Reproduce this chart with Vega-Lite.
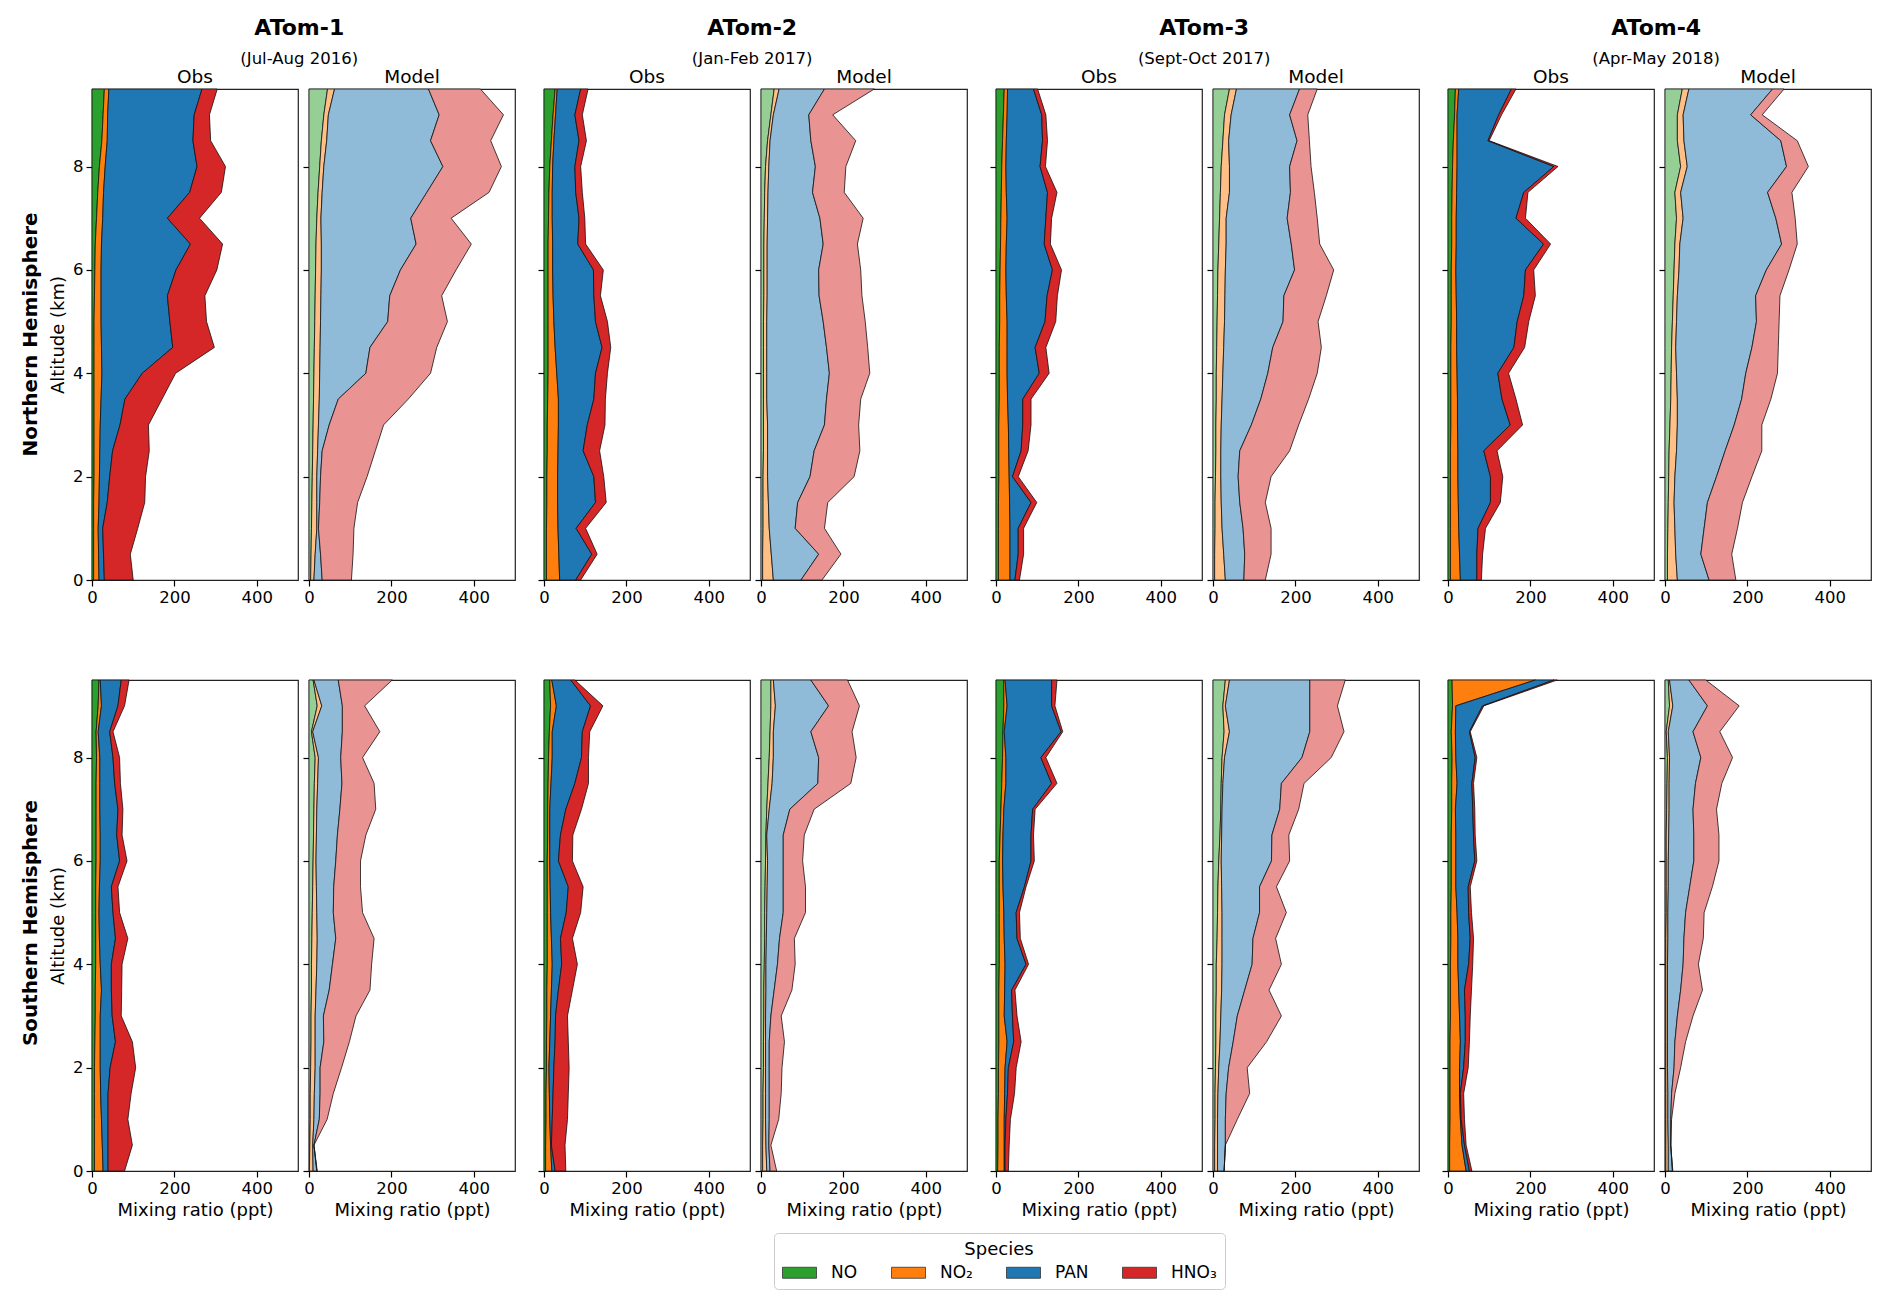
{
"$schema":"https://vega.github.io/schema/vega-lite/v6.json",
"padding":{"left":20,"top":16,"right":5,"bottom":5},
"background":"white",
"data":{"values":[
{"h":"NH","c":1,"s":"Obs","a":9.5,"NO":30,"NO2":11,"PAN":226,"HNO3":37},
{"h":"NH","c":1,"s":"Obs","a":9,"NO":27,"NO2":11,"PAN":210,"HNO3":37},
{"h":"NH","c":1,"s":"Obs","a":8.5,"NO":24,"NO2":13,"PAN":208,"HNO3":43},
{"h":"NH","c":1,"s":"Obs","a":8,"NO":18,"NO2":14,"PAN":223,"HNO3":69},
{"h":"NH","c":1,"s":"Obs","a":7.5,"NO":14,"NO2":14,"PAN":209,"HNO3":77},
{"h":"NH","c":1,"s":"Obs","a":7,"NO":11,"NO2":15,"PAN":157,"HNO3":78},
{"h":"NH","c":1,"s":"Obs","a":6.5,"NO":8,"NO2":15,"PAN":216,"HNO3":78},
{"h":"NH","c":1,"s":"Obs","a":6,"NO":7,"NO2":15,"PAN":182,"HNO3":99},
{"h":"NH","c":1,"s":"Obs","a":5.5,"NO":6,"NO2":16,"PAN":161,"HNO3":91},
{"h":"NH","c":1,"s":"Obs","a":5,"NO":5,"NO2":17,"PAN":167,"HNO3":89},
{"h":"NH","c":1,"s":"Obs","a":4.5,"NO":5,"NO2":18,"PAN":173,"HNO3":101},
{"h":"NH","c":1,"s":"Obs","a":4,"NO":5,"NO2":19,"PAN":98,"HNO3":81},
{"h":"NH","c":1,"s":"Obs","a":3.5,"NO":5,"NO2":17,"PAN":58,"HNO3":90},
{"h":"NH","c":1,"s":"Obs","a":3,"NO":5,"NO2":15,"PAN":48,"HNO3":69},
{"h":"NH","c":1,"s":"Obs","a":2.5,"NO":5,"NO2":14,"PAN":31,"HNO3":89},
{"h":"NH","c":1,"s":"Obs","a":2,"NO":5,"NO2":13,"PAN":25,"HNO3":87},
{"h":"NH","c":1,"s":"Obs","a":1.5,"NO":4,"NO2":13,"PAN":20,"HNO3":91},
{"h":"NH","c":1,"s":"Obs","a":1,"NO":4,"NO2":11,"PAN":11,"HNO3":85},
{"h":"NH","c":1,"s":"Obs","a":0.5,"NO":4,"NO2":12,"PAN":12,"HNO3":65},
{"h":"NH","c":1,"s":"Obs","a":0,"NO":4,"NO2":13,"PAN":13,"HNO3":70},
{"h":"NH","c":1,"s":"Model","a":9.5,"NO":45,"NO2":17,"PAN":228,"HNO3":126},
{"h":"NH","c":1,"s":"Model","a":9,"NO":36,"NO2":11,"PAN":269,"HNO3":156},
{"h":"NH","c":1,"s":"Model","a":8.5,"NO":30,"NO2":13,"PAN":252,"HNO3":146},
{"h":"NH","c":1,"s":"Model","a":8,"NO":26,"NO2":10,"PAN":289,"HNO3":142},
{"h":"NH","c":1,"s":"Model","a":7.5,"NO":22,"NO2":10,"PAN":254,"HNO3":151},
{"h":"NH","c":1,"s":"Model","a":7,"NO":19,"NO2":10,"PAN":218,"HNO3":98},
{"h":"NH","c":1,"s":"Model","a":6.5,"NO":17,"NO2":13,"PAN":230,"HNO3":134},
{"h":"NH","c":1,"s":"Model","a":6,"NO":16,"NO2":14,"PAN":192,"HNO3":135},
{"h":"NH","c":1,"s":"Model","a":5.5,"NO":15,"NO2":14,"PAN":167,"HNO3":126},
{"h":"NH","c":1,"s":"Model","a":5,"NO":14,"NO2":14,"PAN":163,"HNO3":145},
{"h":"NH","c":1,"s":"Model","a":4.5,"NO":13,"NO2":14,"PAN":121,"HNO3":162},
{"h":"NH","c":1,"s":"Model","a":4,"NO":12,"NO2":14,"PAN":112,"HNO3":157},
{"h":"NH","c":1,"s":"Model","a":3.5,"NO":11,"NO2":14,"PAN":46,"HNO3":170},
{"h":"NH","c":1,"s":"Model","a":3,"NO":10,"NO2":13,"PAN":26,"HNO3":132},
{"h":"NH","c":1,"s":"Model","a":2.5,"NO":9,"NO2":12,"PAN":11,"HNO3":129},
{"h":"NH","c":1,"s":"Model","a":2,"NO":8,"NO2":11,"PAN":9,"HNO3":113},
{"h":"NH","c":1,"s":"Model","a":1.5,"NO":7,"NO2":12,"PAN":7,"HNO3":92},
{"h":"NH","c":1,"s":"Model","a":1,"NO":6,"NO2":13,"PAN":4,"HNO3":86},
{"h":"NH","c":1,"s":"Model","a":0.5,"NO":5,"NO2":10,"PAN":13,"HNO3":79},
{"h":"NH","c":1,"s":"Model","a":0,"NO":4,"NO2":8,"PAN":20,"HNO3":71},
{"h":"NH","c":2,"s":"Obs","a":9.5,"NO":27,"NO2":5,"PAN":57,"HNO3":18},
{"h":"NH","c":2,"s":"Obs","a":9,"NO":22,"NO2":6,"PAN":47,"HNO3":18},
{"h":"NH","c":2,"s":"Obs","a":8.5,"NO":18,"NO2":6,"PAN":61,"HNO3":18},
{"h":"NH","c":2,"s":"Obs","a":8,"NO":14,"NO2":7,"PAN":54,"HNO3":14},
{"h":"NH","c":2,"s":"Obs","a":7.5,"NO":12,"NO2":8,"PAN":57,"HNO3":16},
{"h":"NH","c":2,"s":"Obs","a":7,"NO":11,"NO2":9,"PAN":65,"HNO3":14},
{"h":"NH","c":2,"s":"Obs","a":6.5,"NO":10,"NO2":11,"PAN":61,"HNO3":19},
{"h":"NH","c":2,"s":"Obs","a":6,"NO":10,"NO2":11,"PAN":99,"HNO3":24},
{"h":"NH","c":2,"s":"Obs","a":5.5,"NO":10,"NO2":12,"PAN":99,"HNO3":16},
{"h":"NH","c":2,"s":"Obs","a":5,"NO":10,"NO2":14,"PAN":101,"HNO3":29},
{"h":"NH","c":2,"s":"Obs","a":4.5,"NO":10,"NO2":17,"PAN":114,"HNO3":21},
{"h":"NH","c":2,"s":"Obs","a":4,"NO":10,"NO2":21,"PAN":94,"HNO3":29},
{"h":"NH","c":2,"s":"Obs","a":3.5,"NO":9,"NO2":26,"PAN":86,"HNO3":28},
{"h":"NH","c":2,"s":"Obs","a":3,"NO":8,"NO2":27,"PAN":70,"HNO3":43},
{"h":"NH","c":2,"s":"Obs","a":2.5,"NO":8,"NO2":26,"PAN":61,"HNO3":40},
{"h":"NH","c":2,"s":"Obs","a":2,"NO":7,"NO2":26,"PAN":88,"HNO3":24},
{"h":"NH","c":2,"s":"Obs","a":1.5,"NO":7,"NO2":26,"PAN":92,"HNO3":26},
{"h":"NH","c":2,"s":"Obs","a":1,"NO":6,"NO2":28,"PAN":44,"HNO3":23},
{"h":"NH","c":2,"s":"Obs","a":0.5,"NO":6,"NO2":30,"PAN":80,"HNO3":13},
{"h":"NH","c":2,"s":"Obs","a":0,"NO":6,"NO2":32,"PAN":39,"HNO3":12},
{"h":"NH","c":2,"s":"Model","a":9.5,"NO":32,"NO2":12,"PAN":110,"HNO3":121},
{"h":"NH","c":2,"s":"Model","a":9,"NO":24,"NO2":6,"PAN":86,"HNO3":58},
{"h":"NH","c":2,"s":"Model","a":8.5,"NO":16,"NO2":6,"PAN":99,"HNO3":109},
{"h":"NH","c":2,"s":"Model","a":8,"NO":11,"NO2":8,"PAN":113,"HNO3":74},
{"h":"NH","c":2,"s":"Model","a":7.5,"NO":9,"NO2":8,"PAN":108,"HNO3":77},
{"h":"NH","c":2,"s":"Model","a":7,"NO":8,"NO2":8,"PAN":127,"HNO3":105},
{"h":"NH","c":2,"s":"Model","a":6.5,"NO":7,"NO2":8,"PAN":136,"HNO3":83},
{"h":"NH","c":2,"s":"Model","a":6,"NO":7,"NO2":8,"PAN":125,"HNO3":102},
{"h":"NH","c":2,"s":"Model","a":5.5,"NO":7,"NO2":8,"PAN":126,"HNO3":104},
{"h":"NH","c":2,"s":"Model","a":5,"NO":6,"NO2":8,"PAN":137,"HNO3":102},
{"h":"NH","c":2,"s":"Model","a":4.5,"NO":6,"NO2":8,"PAN":145,"HNO3":100},
{"h":"NH","c":2,"s":"Model","a":4,"NO":6,"NO2":8,"PAN":152,"HNO3":98},
{"h":"NH","c":2,"s":"Model","a":3.5,"NO":6,"NO2":8,"PAN":145,"HNO3":83},
{"h":"NH","c":2,"s":"Model","a":3,"NO":6,"NO2":10,"PAN":138,"HNO3":83},
{"h":"NH","c":2,"s":"Model","a":2.5,"NO":6,"NO2":10,"PAN":113,"HNO3":111},
{"h":"NH","c":2,"s":"Model","a":2,"NO":5,"NO2":11,"PAN":103,"HNO3":107},
{"h":"NH","c":2,"s":"Model","a":1.5,"NO":5,"NO2":13,"PAN":71,"HNO3":73},
{"h":"NH","c":2,"s":"Model","a":1,"NO":5,"NO2":15,"PAN":63,"HNO3":71},
{"h":"NH","c":2,"s":"Model","a":0.5,"NO":4,"NO2":21,"PAN":115,"HNO3":54},
{"h":"NH","c":2,"s":"Model","a":0,"NO":4,"NO2":26,"PAN":67,"HNO3":51},
{"h":"NH","c":3,"s":"Obs","a":9.5,"NO":20,"NO2":8,"PAN":63,"HNO3":10},
{"h":"NH","c":3,"s":"Obs","a":9,"NO":18,"NO2":9,"PAN":84,"HNO3":10},
{"h":"NH","c":3,"s":"Obs","a":8.5,"NO":16,"NO2":9,"PAN":88,"HNO3":12},
{"h":"NH","c":3,"s":"Obs","a":8,"NO":14,"NO2":10,"PAN":83,"HNO3":13},
{"h":"NH","c":3,"s":"Obs","a":7.5,"NO":13,"NO2":12,"PAN":100,"HNO3":23},
{"h":"NH","c":3,"s":"Obs","a":7,"NO":12,"NO2":15,"PAN":94,"HNO3":14},
{"h":"NH","c":3,"s":"Obs","a":6.5,"NO":11,"NO2":14,"PAN":92,"HNO3":15},
{"h":"NH","c":3,"s":"Obs","a":6,"NO":10,"NO2":14,"PAN":113,"HNO3":22},
{"h":"NH","c":3,"s":"Obs","a":5.5,"NO":9,"NO2":16,"PAN":99,"HNO3":25},
{"h":"NH","c":3,"s":"Obs","a":5,"NO":9,"NO2":18,"PAN":92,"HNO3":26},
{"h":"NH","c":3,"s":"Obs","a":4.5,"NO":8,"NO2":19,"PAN":68,"HNO3":26},
{"h":"NH","c":3,"s":"Obs","a":4,"NO":8,"NO2":19,"PAN":78,"HNO3":24},
{"h":"NH","c":3,"s":"Obs","a":3.5,"NO":8,"NO2":20,"PAN":37,"HNO3":20},
{"h":"NH","c":3,"s":"Obs","a":3,"NO":7,"NO2":23,"PAN":35,"HNO3":20},
{"h":"NH","c":3,"s":"Obs","a":2.5,"NO":7,"NO2":24,"PAN":30,"HNO3":17},
{"h":"NH","c":3,"s":"Obs","a":2,"NO":7,"NO2":25,"PAN":8,"HNO3":14},
{"h":"NH","c":3,"s":"Obs","a":1.5,"NO":6,"NO2":27,"PAN":52,"HNO3":14},
{"h":"NH","c":3,"s":"Obs","a":1,"NO":6,"NO2":28,"PAN":20,"HNO3":13},
{"h":"NH","c":3,"s":"Obs","a":0.5,"NO":6,"NO2":28,"PAN":20,"HNO3":13},
{"h":"NH","c":3,"s":"Obs","a":0,"NO":6,"NO2":28,"PAN":12,"HNO3":11},
{"h":"NH","c":3,"s":"Model","a":9.5,"NO":40,"NO2":17,"PAN":153,"HNO3":43},
{"h":"NH","c":3,"s":"Model","a":9,"NO":28,"NO2":16,"PAN":142,"HNO3":44},
{"h":"NH","c":3,"s":"Model","a":8.5,"NO":24,"NO2":14,"PAN":166,"HNO3":30},
{"h":"NH","c":3,"s":"Model","a":8,"NO":20,"NO2":20,"PAN":146,"HNO3":52},
{"h":"NH","c":3,"s":"Model","a":7.5,"NO":18,"NO2":22,"PAN":148,"HNO3":58},
{"h":"NH","c":3,"s":"Model","a":7,"NO":16,"NO2":16,"PAN":148,"HNO3":73},
{"h":"NH","c":3,"s":"Model","a":6.5,"NO":14,"NO2":18,"PAN":158,"HNO3":69},
{"h":"NH","c":3,"s":"Model","a":6,"NO":12,"NO2":18,"PAN":168,"HNO3":95},
{"h":"NH","c":3,"s":"Model","a":5.5,"NO":11,"NO2":18,"PAN":143,"HNO3":103},
{"h":"NH","c":3,"s":"Model","a":5,"NO":10,"NO2":18,"PAN":142,"HNO3":85},
{"h":"NH","c":3,"s":"Model","a":4.5,"NO":9,"NO2":17,"PAN":119,"HNO3":118},
{"h":"NH","c":3,"s":"Model","a":4,"NO":8,"NO2":16,"PAN":109,"HNO3":120},
{"h":"NH","c":3,"s":"Model","a":3.5,"NO":8,"NO2":14,"PAN":94,"HNO3":116},
{"h":"NH","c":3,"s":"Model","a":3,"NO":7,"NO2":13,"PAN":73,"HNO3":115},
{"h":"NH","c":3,"s":"Model","a":2.5,"NO":7,"NO2":12,"PAN":46,"HNO3":121},
{"h":"NH","c":3,"s":"Model","a":2,"NO":6,"NO2":13,"PAN":42,"HNO3":80},
{"h":"NH","c":3,"s":"Model","a":1.5,"NO":5,"NO2":15,"PAN":45,"HNO3":62},
{"h":"NH","c":3,"s":"Model","a":1,"NO":5,"NO2":17,"PAN":51,"HNO3":68},
{"h":"NH","c":3,"s":"Model","a":0.5,"NO":4,"NO2":22,"PAN":51,"HNO3":64},
{"h":"NH","c":3,"s":"Model","a":0,"NO":4,"NO2":26,"PAN":45,"HNO3":52},
{"h":"NH","c":4,"s":"Obs","a":9.5,"NO":18,"NO2":8,"PAN":128,"HNO3":11},
{"h":"NH","c":4,"s":"Obs","a":9,"NO":16,"NO2":6,"PAN":101,"HNO3":7},
{"h":"NH","c":4,"s":"Obs","a":8.5,"NO":13,"NO2":9,"PAN":75,"HNO3":3},
{"h":"NH","c":4,"s":"Obs","a":8,"NO":11,"NO2":11,"PAN":235,"HNO3":10},
{"h":"NH","c":4,"s":"Obs","a":7.5,"NO":10,"NO2":11,"PAN":163,"HNO3":10},
{"h":"NH","c":4,"s":"Obs","a":7,"NO":9,"NO2":11,"PAN":145,"HNO3":23},
{"h":"NH","c":4,"s":"Obs","a":6.5,"NO":9,"NO2":11,"PAN":212,"HNO3":17},
{"h":"NH","c":4,"s":"Obs","a":6,"NO":8,"NO2":11,"PAN":169,"HNO3":20},
{"h":"NH","c":4,"s":"Obs","a":5.5,"NO":8,"NO2":12,"PAN":164,"HNO3":28},
{"h":"NH","c":4,"s":"Obs","a":5,"NO":8,"NO2":13,"PAN":147,"HNO3":28},
{"h":"NH","c":4,"s":"Obs","a":4.5,"NO":7,"NO2":14,"PAN":139,"HNO3":26},
{"h":"NH","c":4,"s":"Obs","a":4,"NO":7,"NO2":15,"PAN":99,"HNO3":26},
{"h":"NH","c":4,"s":"Obs","a":3.5,"NO":7,"NO2":16,"PAN":108,"HNO3":34},
{"h":"NH","c":4,"s":"Obs","a":3,"NO":7,"NO2":16,"PAN":128,"HNO3":30},
{"h":"NH","c":4,"s":"Obs","a":2.5,"NO":6,"NO2":18,"PAN":63,"HNO3":32},
{"h":"NH","c":4,"s":"Obs","a":2,"NO":6,"NO2":18,"PAN":79,"HNO3":30},
{"h":"NH","c":4,"s":"Obs","a":1.5,"NO":6,"NO2":19,"PAN":78,"HNO3":24},
{"h":"NH","c":4,"s":"Obs","a":1,"NO":6,"NO2":20,"PAN":47,"HNO3":18},
{"h":"NH","c":4,"s":"Obs","a":0.5,"NO":6,"NO2":22,"PAN":42,"HNO3":14},
{"h":"NH","c":4,"s":"Obs","a":0,"NO":6,"NO2":24,"PAN":40,"HNO3":11},
{"h":"NH","c":4,"s":"Model","a":9.5,"NO":42,"NO2":16,"PAN":203,"HNO3":28},
{"h":"NH","c":4,"s":"Model","a":9,"NO":30,"NO2":14,"PAN":164,"HNO3":28},
{"h":"NH","c":4,"s":"Model","a":8.5,"NO":30,"NO2":16,"PAN":235,"HNO3":40},
{"h":"NH","c":4,"s":"Model","a":8,"NO":38,"NO2":16,"PAN":241,"HNO3":53},
{"h":"NH","c":4,"s":"Model","a":7.5,"NO":24,"NO2":14,"PAN":211,"HNO3":59},
{"h":"NH","c":4,"s":"Model","a":7,"NO":28,"NO2":16,"PAN":225,"HNO3":47},
{"h":"NH","c":4,"s":"Model","a":6.5,"NO":24,"NO2":12,"PAN":247,"HNO3":38},
{"h":"NH","c":4,"s":"Model","a":6,"NO":22,"NO2":12,"PAN":212,"HNO3":55},
{"h":"NH","c":4,"s":"Model","a":5.5,"NO":20,"NO2":10,"PAN":190,"HNO3":59},
{"h":"NH","c":4,"s":"Model","a":5,"NO":18,"NO2":10,"PAN":194,"HNO3":55},
{"h":"NH","c":4,"s":"Model","a":4.5,"NO":16,"NO2":10,"PAN":185,"HNO3":64},
{"h":"NH","c":4,"s":"Model","a":4,"NO":15,"NO2":13,"PAN":168,"HNO3":77},
{"h":"NH","c":4,"s":"Model","a":3.5,"NO":14,"NO2":16,"PAN":156,"HNO3":71},
{"h":"NH","c":4,"s":"Model","a":3,"NO":12,"NO2":18,"PAN":138,"HNO3":67},
{"h":"NH","c":4,"s":"Model","a":2.5,"NO":10,"NO2":18,"PAN":118,"HNO3":89},
{"h":"NH","c":4,"s":"Model","a":2,"NO":9,"NO2":15,"PAN":101,"HNO3":86},
{"h":"NH","c":4,"s":"Model","a":1.5,"NO":8,"NO2":14,"PAN":81,"HNO3":85},
{"h":"NH","c":4,"s":"Model","a":1,"NO":7,"NO2":17,"PAN":71,"HNO3":81},
{"h":"NH","c":4,"s":"Model","a":0.5,"NO":6,"NO2":20,"PAN":61,"HNO3":75},
{"h":"NH","c":4,"s":"Model","a":0,"NO":6,"NO2":24,"PAN":77,"HNO3":65},
{"h":"SH","c":1,"s":"Obs","a":9.5,"NO":17,"NO2":3,"PAN":51,"HNO3":19},
{"h":"SH","c":1,"s":"Obs","a":9,"NO":15,"NO2":8,"PAN":40,"HNO3":16},
{"h":"SH","c":1,"s":"Obs","a":8.5,"NO":10,"NO2":5,"PAN":28,"HNO3":8},
{"h":"SH","c":1,"s":"Obs","a":8,"NO":11,"NO2":8,"PAN":32,"HNO3":16},
{"h":"SH","c":1,"s":"Obs","a":7.5,"NO":10,"NO2":9,"PAN":36,"HNO3":14},
{"h":"SH","c":1,"s":"Obs","a":7,"NO":10,"NO2":9,"PAN":44,"HNO3":12},
{"h":"SH","c":1,"s":"Obs","a":6.5,"NO":10,"NO2":10,"PAN":40,"HNO3":13},
{"h":"SH","c":1,"s":"Obs","a":6,"NO":10,"NO2":10,"PAN":47,"HNO3":18},
{"h":"SH","c":1,"s":"Obs","a":5.5,"NO":9,"NO2":9,"PAN":29,"HNO3":16},
{"h":"SH","c":1,"s":"Obs","a":5,"NO":9,"NO2":8,"PAN":34,"HNO3":16},
{"h":"SH","c":1,"s":"Obs","a":4.5,"NO":9,"NO2":9,"PAN":39,"HNO3":30},
{"h":"SH","c":1,"s":"Obs","a":4,"NO":9,"NO2":11,"PAN":27,"HNO3":26},
{"h":"SH","c":1,"s":"Obs","a":3.5,"NO":8,"NO2":15,"PAN":24,"HNO3":25},
{"h":"SH","c":1,"s":"Obs","a":3,"NO":8,"NO2":12,"PAN":29,"HNO3":22},
{"h":"SH","c":1,"s":"Obs","a":2.5,"NO":7,"NO2":13,"PAN":37,"HNO3":41},
{"h":"SH","c":1,"s":"Obs","a":2,"NO":6,"NO2":14,"PAN":24,"HNO3":62},
{"h":"SH","c":1,"s":"Obs","a":1.5,"NO":6,"NO2":15,"PAN":18,"HNO3":56},
{"h":"SH","c":1,"s":"Obs","a":1,"NO":6,"NO2":17,"PAN":16,"HNO3":48},
{"h":"SH","c":1,"s":"Obs","a":0.5,"NO":6,"NO2":19,"PAN":14,"HNO3":59},
{"h":"SH","c":1,"s":"Obs","a":0,"NO":6,"NO2":21,"PAN":12,"HNO3":40},
{"h":"SH","c":1,"s":"Model","a":9.5,"NO":10,"NO2":2,"PAN":59,"HNO3":131},
{"h":"SH","c":1,"s":"Model","a":9,"NO":20,"NO2":11,"PAN":50,"HNO3":54},
{"h":"SH","c":1,"s":"Model","a":8.5,"NO":6,"NO2":3,"PAN":72,"HNO3":91},
{"h":"SH","c":1,"s":"Model","a":8,"NO":15,"NO2":8,"PAN":54,"HNO3":53},
{"h":"SH","c":1,"s":"Model","a":7.5,"NO":13,"NO2":8,"PAN":59,"HNO3":78},
{"h":"SH","c":1,"s":"Model","a":7,"NO":12,"NO2":7,"PAN":56,"HNO3":87},
{"h":"SH","c":1,"s":"Model","a":6.5,"NO":11,"NO2":7,"PAN":51,"HNO3":69},
{"h":"SH","c":1,"s":"Model","a":6,"NO":10,"NO2":7,"PAN":48,"HNO3":60},
{"h":"SH","c":1,"s":"Model","a":5.5,"NO":9,"NO2":9,"PAN":42,"HNO3":65},
{"h":"SH","c":1,"s":"Model","a":5,"NO":8,"NO2":11,"PAN":40,"HNO3":71},
{"h":"SH","c":1,"s":"Model","a":4.5,"NO":7,"NO2":13,"PAN":45,"HNO3":93},
{"h":"SH","c":1,"s":"Model","a":4,"NO":6,"NO2":13,"PAN":38,"HNO3":95},
{"h":"SH","c":1,"s":"Model","a":3.5,"NO":6,"NO2":11,"PAN":32,"HNO3":99},
{"h":"SH","c":1,"s":"Model","a":3,"NO":5,"NO2":10,"PAN":20,"HNO3":79},
{"h":"SH","c":1,"s":"Model","a":2.5,"NO":5,"NO2":10,"PAN":21,"HNO3":62},
{"h":"SH","c":1,"s":"Model","a":2,"NO":4,"NO2":11,"PAN":12,"HNO3":52},
{"h":"SH","c":1,"s":"Model","a":1.5,"NO":3,"NO2":10,"PAN":14,"HNO3":32},
{"h":"SH","c":1,"s":"Model","a":1,"NO":3,"NO2":9,"PAN":13,"HNO3":19},
{"h":"SH","c":1,"s":"Model","a":0.5,"NO":2,"NO2":7,"PAN":3,"HNO3":0},
{"h":"SH","c":1,"s":"Model","a":0,"NO":1,"NO2":9,"PAN":9,"HNO3":1},
{"h":"SH","c":2,"s":"Obs","a":9.5,"NO":14,"NO2":5,"PAN":46,"HNO3":10},
{"h":"SH","c":2,"s":"Obs","a":9,"NO":16,"NO2":14,"PAN":83,"HNO3":30},
{"h":"SH","c":2,"s":"Obs","a":8.5,"NO":13,"NO2":7,"PAN":73,"HNO3":18},
{"h":"SH","c":2,"s":"Obs","a":8,"NO":11,"NO2":9,"PAN":71,"HNO3":17},
{"h":"SH","c":2,"s":"Obs","a":7.5,"NO":10,"NO2":7,"PAN":58,"HNO3":33},
{"h":"SH","c":2,"s":"Obs","a":7,"NO":9,"NO2":5,"PAN":39,"HNO3":38},
{"h":"SH","c":2,"s":"Obs","a":6.5,"NO":9,"NO2":5,"PAN":26,"HNO3":30},
{"h":"SH","c":2,"s":"Obs","a":6,"NO":8,"NO2":6,"PAN":21,"HNO3":34},
{"h":"SH","c":2,"s":"Obs","a":5.5,"NO":8,"NO2":7,"PAN":44,"HNO3":36},
{"h":"SH","c":2,"s":"Obs","a":5,"NO":8,"NO2":8,"PAN":38,"HNO3":35},
{"h":"SH","c":2,"s":"Obs","a":4.5,"NO":8,"NO2":10,"PAN":22,"HNO3":29},
{"h":"SH","c":2,"s":"Obs","a":4,"NO":8,"NO2":12,"PAN":23,"HNO3":38},
{"h":"SH","c":2,"s":"Obs","a":3.5,"NO":7,"NO2":11,"PAN":17,"HNO3":34},
{"h":"SH","c":2,"s":"Obs","a":3,"NO":7,"NO2":9,"PAN":12,"HNO3":29},
{"h":"SH","c":2,"s":"Obs","a":2.5,"NO":6,"NO2":8,"PAN":13,"HNO3":32},
{"h":"SH","c":2,"s":"Obs","a":2,"NO":6,"NO2":6,"PAN":12,"HNO3":37},
{"h":"SH","c":2,"s":"Obs","a":1.5,"NO":5,"NO2":8,"PAN":9,"HNO3":37},
{"h":"SH","c":2,"s":"Obs","a":1,"NO":5,"NO2":9,"PAN":6,"HNO3":37},
{"h":"SH","c":2,"s":"Obs","a":0.5,"NO":4,"NO2":12,"PAN":2,"HNO3":33},
{"h":"SH","c":2,"s":"Obs","a":0,"NO":4,"NO2":15,"PAN":8,"HNO3":26},
{"h":"SH","c":2,"s":"Model","a":9.5,"NO":24,"NO2":6,"PAN":91,"HNO3":89},
{"h":"SH","c":2,"s":"Model","a":9,"NO":24,"NO2":11,"PAN":129,"HNO3":75},
{"h":"SH","c":2,"s":"Model","a":8.5,"NO":22,"NO2":8,"PAN":91,"HNO3":100},
{"h":"SH","c":2,"s":"Model","a":8,"NO":20,"NO2":10,"PAN":110,"HNO3":91},
{"h":"SH","c":2,"s":"Model","a":7.5,"NO":17,"NO2":10,"PAN":111,"HNO3":80},
{"h":"SH","c":2,"s":"Model","a":7,"NO":14,"NO2":6,"PAN":50,"HNO3":59},
{"h":"SH","c":2,"s":"Model","a":6.5,"NO":12,"NO2":2,"PAN":40,"HNO3":51},
{"h":"SH","c":2,"s":"Model","a":6,"NO":11,"NO2":5,"PAN":38,"HNO3":47},
{"h":"SH","c":2,"s":"Model","a":5.5,"NO":10,"NO2":5,"PAN":39,"HNO3":54},
{"h":"SH","c":2,"s":"Model","a":5,"NO":9,"NO2":5,"PAN":40,"HNO3":54},
{"h":"SH","c":2,"s":"Model","a":4.5,"NO":9,"NO2":4,"PAN":32,"HNO3":36},
{"h":"SH","c":2,"s":"Model","a":4,"NO":8,"NO2":4,"PAN":28,"HNO3":43},
{"h":"SH","c":2,"s":"Model","a":3.5,"NO":7,"NO2":5,"PAN":20,"HNO3":43},
{"h":"SH","c":2,"s":"Model","a":3,"NO":7,"NO2":4,"PAN":13,"HNO3":25},
{"h":"SH","c":2,"s":"Model","a":2.5,"NO":6,"NO2":5,"PAN":9,"HNO3":37},
{"h":"SH","c":2,"s":"Model","a":2,"NO":6,"NO2":5,"PAN":9,"HNO3":31},
{"h":"SH","c":2,"s":"Model","a":1.5,"NO":5,"NO2":6,"PAN":9,"HNO3":29},
{"h":"SH","c":2,"s":"Model","a":1,"NO":5,"NO2":6,"PAN":9,"HNO3":23},
{"h":"SH","c":2,"s":"Model","a":0.5,"NO":4,"NO2":8,"PAN":7,"HNO3":5},
{"h":"SH","c":2,"s":"Model","a":0,"NO":4,"NO2":10,"PAN":8,"HNO3":16},
{"h":"SH","c":3,"s":"Obs","a":9.5,"NO":19,"NO2":3,"PAN":113,"HNO3":13},
{"h":"SH","c":3,"s":"Obs","a":9,"NO":19,"NO2":8,"PAN":108,"HNO3":8},
{"h":"SH","c":3,"s":"Obs","a":8.5,"NO":17,"NO2":3,"PAN":138,"HNO3":4},
{"h":"SH","c":3,"s":"Obs","a":8,"NO":16,"NO2":8,"PAN":85,"HNO3":12},
{"h":"SH","c":3,"s":"Obs","a":7.5,"NO":14,"NO2":10,"PAN":111,"HNO3":13},
{"h":"SH","c":3,"s":"Obs","a":7,"NO":12,"NO2":7,"PAN":70,"HNO3":6},
{"h":"SH","c":3,"s":"Obs","a":6.5,"NO":10,"NO2":7,"PAN":68,"HNO3":6},
{"h":"SH","c":3,"s":"Obs","a":6,"NO":8,"NO2":8,"PAN":69,"HNO3":8},
{"h":"SH","c":3,"s":"Obs","a":5.5,"NO":8,"NO2":9,"PAN":52,"HNO3":4},
{"h":"SH","c":3,"s":"Obs","a":5,"NO":8,"NO2":11,"PAN":30,"HNO3":8},
{"h":"SH","c":3,"s":"Obs","a":4.5,"NO":8,"NO2":12,"PAN":31,"HNO3":8},
{"h":"SH","c":3,"s":"Obs","a":4,"NO":8,"NO2":14,"PAN":51,"HNO3":6},
{"h":"SH","c":3,"s":"Obs","a":3.5,"NO":7,"NO2":14,"PAN":17,"HNO3":8},
{"h":"SH","c":3,"s":"Obs","a":3,"NO":7,"NO2":13,"PAN":20,"HNO3":11},
{"h":"SH","c":3,"s":"Obs","a":2.5,"NO":7,"NO2":20,"PAN":16,"HNO3":18},
{"h":"SH","c":3,"s":"Obs","a":2,"NO":6,"NO2":16,"PAN":8,"HNO3":19},
{"h":"SH","c":3,"s":"Obs","a":1.5,"NO":6,"NO2":15,"PAN":7,"HNO3":17},
{"h":"SH","c":3,"s":"Obs","a":1,"NO":5,"NO2":15,"PAN":4,"HNO3":11},
{"h":"SH","c":3,"s":"Obs","a":0.5,"NO":5,"NO2":15,"PAN":2,"HNO3":10},
{"h":"SH","c":3,"s":"Obs","a":0,"NO":4,"NO2":16,"PAN":2,"HNO3":8},
{"h":"SH","c":3,"s":"Model","a":9.5,"NO":30,"NO2":10,"PAN":195,"HNO3":86},
{"h":"SH","c":3,"s":"Model","a":9,"NO":24,"NO2":6,"PAN":205,"HNO3":67},
{"h":"SH","c":3,"s":"Model","a":8.5,"NO":27,"NO2":13,"PAN":195,"HNO3":83},
{"h":"SH","c":3,"s":"Model","a":8,"NO":22,"NO2":6,"PAN":188,"HNO3":71},
{"h":"SH","c":3,"s":"Model","a":7.5,"NO":20,"NO2":4,"PAN":142,"HNO3":55},
{"h":"SH","c":3,"s":"Model","a":7,"NO":19,"NO2":3,"PAN":140,"HNO3":46},
{"h":"SH","c":3,"s":"Model","a":6.5,"NO":17,"NO2":4,"PAN":122,"HNO3":41},
{"h":"SH","c":3,"s":"Model","a":6,"NO":14,"NO2":6,"PAN":122,"HNO3":44},
{"h":"SH","c":3,"s":"Model","a":5.5,"NO":12,"NO2":9,"PAN":92,"HNO3":41},
{"h":"SH","c":3,"s":"Model","a":5,"NO":11,"NO2":11,"PAN":91,"HNO3":65},
{"h":"SH","c":3,"s":"Model","a":4.5,"NO":10,"NO2":12,"PAN":75,"HNO3":55},
{"h":"SH","c":3,"s":"Model","a":4,"NO":8,"NO2":14,"PAN":73,"HNO3":71},
{"h":"SH","c":3,"s":"Model","a":3.5,"NO":8,"NO2":13,"PAN":56,"HNO3":59},
{"h":"SH","c":3,"s":"Model","a":3,"NO":7,"NO2":12,"PAN":40,"HNO3":107},
{"h":"SH","c":3,"s":"Model","a":2.5,"NO":7,"NO2":10,"PAN":32,"HNO3":81},
{"h":"SH","c":3,"s":"Model","a":2,"NO":6,"NO2":8,"PAN":24,"HNO3":45},
{"h":"SH","c":3,"s":"Model","a":1.5,"NO":5,"NO2":7,"PAN":20,"HNO3":57},
{"h":"SH","c":3,"s":"Model","a":1,"NO":5,"NO2":6,"PAN":19,"HNO3":29},
{"h":"SH","c":3,"s":"Model","a":0.5,"NO":4,"NO2":7,"PAN":19,"HNO3":0},
{"h":"SH","c":3,"s":"Model","a":0,"NO":4,"NO2":7,"PAN":16,"HNO3":0},
{"h":"SH","c":4,"s":"Obs","a":9.5,"NO":10,"NO2":202,"PAN":45,"HNO3":8},
{"h":"SH","c":4,"s":"Obs","a":9,"NO":11,"NO2":8,"PAN":65,"HNO3":3},
{"h":"SH","c":4,"s":"Obs","a":8.5,"NO":8,"NO2":10,"PAN":34,"HNO3":2},
{"h":"SH","c":4,"s":"Obs","a":8,"NO":10,"NO2":9,"PAN":47,"HNO3":4},
{"h":"SH","c":4,"s":"Obs","a":7.5,"NO":9,"NO2":13,"PAN":36,"HNO3":4},
{"h":"SH","c":4,"s":"Obs","a":7,"NO":9,"NO2":9,"PAN":42,"HNO3":5},
{"h":"SH","c":4,"s":"Obs","a":6.5,"NO":8,"NO2":11,"PAN":43,"HNO3":4},
{"h":"SH","c":4,"s":"Obs","a":6,"NO":8,"NO2":11,"PAN":46,"HNO3":5},
{"h":"SH","c":4,"s":"Obs","a":5.5,"NO":8,"NO2":11,"PAN":30,"HNO3":5},
{"h":"SH","c":4,"s":"Obs","a":5,"NO":7,"NO2":15,"PAN":28,"HNO3":7},
{"h":"SH","c":4,"s":"Obs","a":4.5,"NO":7,"NO2":17,"PAN":30,"HNO3":8},
{"h":"SH","c":4,"s":"Obs","a":4,"NO":6,"NO2":18,"PAN":26,"HNO3":10},
{"h":"SH","c":4,"s":"Obs","a":3.5,"NO":6,"NO2":20,"PAN":14,"HNO3":17},
{"h":"SH","c":4,"s":"Obs","a":3,"NO":6,"NO2":22,"PAN":14,"HNO3":12},
{"h":"SH","c":4,"s":"Obs","a":2.5,"NO":5,"NO2":25,"PAN":12,"HNO3":10},
{"h":"SH","c":4,"s":"Obs","a":2,"NO":5,"NO2":23,"PAN":10,"HNO3":11},
{"h":"SH","c":4,"s":"Obs","a":1.5,"NO":5,"NO2":23,"PAN":2,"HNO3":8},
{"h":"SH","c":4,"s":"Obs","a":1,"NO":5,"NO2":25,"PAN":2,"HNO3":8},
{"h":"SH","c":4,"s":"Obs","a":0.5,"NO":4,"NO2":30,"PAN":6,"HNO3":4},
{"h":"SH","c":4,"s":"Obs","a":0,"NO":4,"NO2":40,"PAN":8,"HNO3":6},
{"h":"SH","c":4,"s":"Model","a":9.5,"NO":8,"NO2":3,"PAN":47,"HNO3":41},
{"h":"SH","c":4,"s":"Model","a":9,"NO":11,"NO2":8,"PAN":84,"HNO3":77},
{"h":"SH","c":4,"s":"Model","a":8.5,"NO":3,"NO2":5,"PAN":60,"HNO3":65},
{"h":"SH","c":4,"s":"Model","a":8,"NO":6,"NO2":5,"PAN":76,"HNO3":77},
{"h":"SH","c":4,"s":"Model","a":7.5,"NO":5,"NO2":5,"PAN":64,"HNO3":64},
{"h":"SH","c":4,"s":"Model","a":7,"NO":4,"NO2":6,"PAN":58,"HNO3":57},
{"h":"SH","c":4,"s":"Model","a":6.5,"NO":3,"NO2":6,"PAN":61,"HNO3":61},
{"h":"SH","c":4,"s":"Model","a":6,"NO":3,"NO2":5,"PAN":62,"HNO3":61},
{"h":"SH","c":4,"s":"Model","a":5.5,"NO":3,"NO2":5,"PAN":52,"HNO3":55},
{"h":"SH","c":4,"s":"Model","a":5,"NO":3,"NO2":4,"PAN":43,"HNO3":45},
{"h":"SH","c":4,"s":"Model","a":4.5,"NO":2,"NO2":5,"PAN":39,"HNO3":47},
{"h":"SH","c":4,"s":"Model","a":4,"NO":2,"NO2":4,"PAN":38,"HNO3":37},
{"h":"SH","c":4,"s":"Model","a":3.5,"NO":2,"NO2":4,"PAN":32,"HNO3":53},
{"h":"SH","c":4,"s":"Model","a":3,"NO":2,"NO2":4,"PAN":24,"HNO3":38},
{"h":"SH","c":4,"s":"Model","a":2.5,"NO":2,"NO2":4,"PAN":18,"HNO3":26},
{"h":"SH","c":4,"s":"Model","a":2,"NO":2,"NO2":4,"PAN":16,"HNO3":16},
{"h":"SH","c":4,"s":"Model","a":1.5,"NO":2,"NO2":5,"PAN":9,"HNO3":8},
{"h":"SH","c":4,"s":"Model","a":1,"NO":2,"NO2":5,"PAN":7,"HNO3":2},
{"h":"SH","c":4,"s":"Model","a":0.5,"NO":2,"NO2":6,"PAN":6,"HNO3":0},
{"h":"SH","c":4,"s":"Model","a":0,"NO":2,"NO2":6,"PAN":10,"HNO3":1}
]},
"transform":[
{"fold":["NO","NO2","PAN","HNO3"],"as":["sp","v"]},
{"calculate":"datum.s == 'Obs' ? datum.sp : 'm' + datum.sp","as":"k"},
{"calculate":"indexof(['NO','NO2','PAN','HNO3'], datum.sp)","as":"o"}
],
"spacing":70,
"vconcat":[
{"title":{"text":"Northern Hemisphere","orient":"left","anchor":"middle","fontSize":20,"fontWeight":"bold","offset":8,"dx":-23},
 "spacing":20,
 "hconcat":[
 {"title":{"text":"ATom-1","subtitle":"(Jul-Aug 2016)","fontSize":22,"fontWeight":"bold","subtitleFontSize":16.5,"subtitlePadding":11,"anchor":"middle","offset":-1,"dx":17},
  "spacing":2,
  "hconcat":[
  {"width":206,"height":491,"title":"Obs","transform":[{"filter":"datum.h=='NH'&&datum.c==1&&datum.s=='Obs'"}],"mark":{"type":"area","orient":"horizontal"},
   "encoding":{"y":{"field":"a","type":"quantitative","scale":{"domain":[0,9.5],"nice":false},"axis":{"values":[0,2,4,6,8],"title":"Altitude (km)"}},
   "x":{"field":"v","type":"quantitative","stack":"zero","scale":{"domain":[0,500],"nice":false},"axis":{"values":[0,200,400],"title":null}},
   "color":{"field":"k","type":"nominal","legend":{"title":"Species","values":["NO","NO2","PAN","HNO3"],"labelExpr":"datum.label == 'NO2' ? 'NO₂' : datum.label == 'HNO3' ? 'HNO₃' : datum.label","orient":"none","legendX":682,"legendY":1144,"direction":"horizontal","titleAnchor":"middle","titleFontSize":18,"titleFontWeight":"normal","labelFontSize":17,"symbolType":"M-1,-0.6875H3.25V0.6875H-1Z","symbolSize":256,"symbolStrokeColor":"#333","symbolStrokeWidth":1,"symbolOpacity":1,"columnPadding":31,"labelOffset":32,"padding":8,"strokeColor":"#cccccc","cornerRadius":4,"titlePadding":5,"fillColor":"white"}},
   "order":{"field":"o"}}},
  {"width":206,"height":491,"title":"Model","transform":[{"filter":"datum.h=='NH'&&datum.c==1&&datum.s=='Model'"}],"mark":{"type":"area","orient":"horizontal"},
   "encoding":{"y":{"field":"a","type":"quantitative","scale":{"domain":[0,9.5],"nice":false},"axis":{"values":[0,2,4,6,8],"labels":false,"title":null}},
   "x":{"field":"v","type":"quantitative","stack":"zero","scale":{"domain":[0,500],"nice":false},"axis":{"values":[0,200,400],"title":null}},
   "color":{"field":"k","type":"nominal"},"order":{"field":"o"}}}
  ]},
 {"title":{"text":"ATom-2","subtitle":"(Jan-Feb 2017)","fontSize":22,"fontWeight":"bold","subtitleFontSize":16.5,"subtitlePadding":11,"anchor":"middle","offset":-1},
  "spacing":2,
  "hconcat":[
  {"width":206,"height":491,"title":"Obs","transform":[{"filter":"datum.h=='NH'&&datum.c==2&&datum.s=='Obs'"}],"mark":{"type":"area","orient":"horizontal"},
   "encoding":{"y":{"field":"a","type":"quantitative","scale":{"domain":[0,9.5],"nice":false},"axis":{"values":[0,2,4,6,8],"labels":false,"title":null}},
   "x":{"field":"v","type":"quantitative","stack":"zero","scale":{"domain":[0,500],"nice":false},"axis":{"values":[0,200,400],"title":null}},
   "color":{"field":"k","type":"nominal"},"order":{"field":"o"}}},
  {"width":206,"height":491,"title":"Model","transform":[{"filter":"datum.h=='NH'&&datum.c==2&&datum.s=='Model'"}],"mark":{"type":"area","orient":"horizontal"},
   "encoding":{"y":{"field":"a","type":"quantitative","scale":{"domain":[0,9.5],"nice":false},"axis":{"values":[0,2,4,6,8],"labels":false,"title":null}},
   "x":{"field":"v","type":"quantitative","stack":"zero","scale":{"domain":[0,500],"nice":false},"axis":{"values":[0,200,400],"title":null}},
   "color":{"field":"k","type":"nominal"},"order":{"field":"o"}}}
  ]},
 {"title":{"text":"ATom-3","subtitle":"(Sept-Oct 2017)","fontSize":22,"fontWeight":"bold","subtitleFontSize":16.5,"subtitlePadding":11,"anchor":"middle","offset":-1},
  "spacing":2,
  "hconcat":[
  {"width":206,"height":491,"title":"Obs","transform":[{"filter":"datum.h=='NH'&&datum.c==3&&datum.s=='Obs'"}],"mark":{"type":"area","orient":"horizontal"},
   "encoding":{"y":{"field":"a","type":"quantitative","scale":{"domain":[0,9.5],"nice":false},"axis":{"values":[0,2,4,6,8],"labels":false,"title":null}},
   "x":{"field":"v","type":"quantitative","stack":"zero","scale":{"domain":[0,500],"nice":false},"axis":{"values":[0,200,400],"title":null}},
   "color":{"field":"k","type":"nominal"},"order":{"field":"o"}}},
  {"width":206,"height":491,"title":"Model","transform":[{"filter":"datum.h=='NH'&&datum.c==3&&datum.s=='Model'"}],"mark":{"type":"area","orient":"horizontal"},
   "encoding":{"y":{"field":"a","type":"quantitative","scale":{"domain":[0,9.5],"nice":false},"axis":{"values":[0,2,4,6,8],"labels":false,"title":null}},
   "x":{"field":"v","type":"quantitative","stack":"zero","scale":{"domain":[0,500],"nice":false},"axis":{"values":[0,200,400],"title":null}},
   "color":{"field":"k","type":"nominal"},"order":{"field":"o"}}}
  ]},
 {"title":{"text":"ATom-4","subtitle":"(Apr-May 2018)","fontSize":22,"fontWeight":"bold","subtitleFontSize":16.5,"subtitlePadding":11,"anchor":"middle","offset":-1},
  "spacing":2,
  "hconcat":[
  {"width":206,"height":491,"title":"Obs","transform":[{"filter":"datum.h=='NH'&&datum.c==4&&datum.s=='Obs'"}],"mark":{"type":"area","orient":"horizontal"},
   "encoding":{"y":{"field":"a","type":"quantitative","scale":{"domain":[0,9.5],"nice":false},"axis":{"values":[0,2,4,6,8],"labels":false,"title":null}},
   "x":{"field":"v","type":"quantitative","stack":"zero","scale":{"domain":[0,500],"nice":false},"axis":{"values":[0,200,400],"title":null}},
   "color":{"field":"k","type":"nominal"},"order":{"field":"o"}}},
  {"width":206,"height":491,"title":"Model","transform":[{"filter":"datum.h=='NH'&&datum.c==4&&datum.s=='Model'"}],"mark":{"type":"area","orient":"horizontal"},
   "encoding":{"y":{"field":"a","type":"quantitative","scale":{"domain":[0,9.5],"nice":false},"axis":{"values":[0,2,4,6,8],"labels":false,"title":null}},
   "x":{"field":"v","type":"quantitative","stack":"zero","scale":{"domain":[0,500],"nice":false},"axis":{"values":[0,200,400],"title":null}},
   "color":{"field":"k","type":"nominal"},"order":{"field":"o"}}}
  ]}
 ]},
{"title":{"text":"Southern Hemisphere","orient":"left","anchor":"middle","fontSize":20,"fontWeight":"bold","offset":8,"dx":26},
 "spacing":20,
 "hconcat":[
 {"spacing":2,
  "hconcat":[
  {"width":206,"height":491,"transform":[{"filter":"datum.h=='SH'&&datum.c==1&&datum.s=='Obs'"}],"mark":{"type":"area","orient":"horizontal"},
   "encoding":{"y":{"field":"a","type":"quantitative","scale":{"domain":[0,9.5],"nice":false},"axis":{"values":[0,2,4,6,8],"title":"Altitude (km)"}},
   "x":{"field":"v","type":"quantitative","stack":"zero","scale":{"domain":[0,500],"nice":false},"axis":{"values":[0,200,400],"title":"Mixing ratio (ppt)"}},
   "color":{"field":"k","type":"nominal"},"order":{"field":"o"}}},
  {"width":206,"height":491,"transform":[{"filter":"datum.h=='SH'&&datum.c==1&&datum.s=='Model'"}],"mark":{"type":"area","orient":"horizontal"},
   "encoding":{"y":{"field":"a","type":"quantitative","scale":{"domain":[0,9.5],"nice":false},"axis":{"values":[0,2,4,6,8],"labels":false,"title":null}},
   "x":{"field":"v","type":"quantitative","stack":"zero","scale":{"domain":[0,500],"nice":false},"axis":{"values":[0,200,400],"title":"Mixing ratio (ppt)"}},
   "color":{"field":"k","type":"nominal"},"order":{"field":"o"}}}
  ]},
 {"spacing":2,
  "hconcat":[
  {"width":206,"height":491,"transform":[{"filter":"datum.h=='SH'&&datum.c==2&&datum.s=='Obs'"}],"mark":{"type":"area","orient":"horizontal"},
   "encoding":{"y":{"field":"a","type":"quantitative","scale":{"domain":[0,9.5],"nice":false},"axis":{"values":[0,2,4,6,8],"labels":false,"title":null}},
   "x":{"field":"v","type":"quantitative","stack":"zero","scale":{"domain":[0,500],"nice":false},"axis":{"values":[0,200,400],"title":"Mixing ratio (ppt)"}},
   "color":{"field":"k","type":"nominal"},"order":{"field":"o"}}},
  {"width":206,"height":491,"transform":[{"filter":"datum.h=='SH'&&datum.c==2&&datum.s=='Model'"}],"mark":{"type":"area","orient":"horizontal"},
   "encoding":{"y":{"field":"a","type":"quantitative","scale":{"domain":[0,9.5],"nice":false},"axis":{"values":[0,2,4,6,8],"labels":false,"title":null}},
   "x":{"field":"v","type":"quantitative","stack":"zero","scale":{"domain":[0,500],"nice":false},"axis":{"values":[0,200,400],"title":"Mixing ratio (ppt)"}},
   "color":{"field":"k","type":"nominal"},"order":{"field":"o"}}}
  ]},
 {"spacing":2,
  "hconcat":[
  {"width":206,"height":491,"transform":[{"filter":"datum.h=='SH'&&datum.c==3&&datum.s=='Obs'"}],"mark":{"type":"area","orient":"horizontal"},
   "encoding":{"y":{"field":"a","type":"quantitative","scale":{"domain":[0,9.5],"nice":false},"axis":{"values":[0,2,4,6,8],"labels":false,"title":null}},
   "x":{"field":"v","type":"quantitative","stack":"zero","scale":{"domain":[0,500],"nice":false},"axis":{"values":[0,200,400],"title":"Mixing ratio (ppt)"}},
   "color":{"field":"k","type":"nominal"},"order":{"field":"o"}}},
  {"width":206,"height":491,"transform":[{"filter":"datum.h=='SH'&&datum.c==3&&datum.s=='Model'"}],"mark":{"type":"area","orient":"horizontal"},
   "encoding":{"y":{"field":"a","type":"quantitative","scale":{"domain":[0,9.5],"nice":false},"axis":{"values":[0,2,4,6,8],"labels":false,"title":null}},
   "x":{"field":"v","type":"quantitative","stack":"zero","scale":{"domain":[0,500],"nice":false},"axis":{"values":[0,200,400],"title":"Mixing ratio (ppt)"}},
   "color":{"field":"k","type":"nominal"},"order":{"field":"o"}}}
  ]},
 {"spacing":2,
  "hconcat":[
  {"width":206,"height":491,"transform":[{"filter":"datum.h=='SH'&&datum.c==4&&datum.s=='Obs'"}],"mark":{"type":"area","orient":"horizontal"},
   "encoding":{"y":{"field":"a","type":"quantitative","scale":{"domain":[0,9.5],"nice":false},"axis":{"values":[0,2,4,6,8],"labels":false,"title":null}},
   "x":{"field":"v","type":"quantitative","stack":"zero","scale":{"domain":[0,500],"nice":false},"axis":{"values":[0,200,400],"title":"Mixing ratio (ppt)"}},
   "color":{"field":"k","type":"nominal"},"order":{"field":"o"}}},
  {"width":206,"height":491,"transform":[{"filter":"datum.h=='SH'&&datum.c==4&&datum.s=='Model'"}],"mark":{"type":"area","orient":"horizontal"},
   "encoding":{"y":{"field":"a","type":"quantitative","scale":{"domain":[0,9.5],"nice":false},"axis":{"values":[0,2,4,6,8],"labels":false,"title":null}},
   "x":{"field":"v","type":"quantitative","stack":"zero","scale":{"domain":[0,500],"nice":false},"axis":{"values":[0,200,400],"title":"Mixing ratio (ppt)"}},
   "color":{"field":"k","type":"nominal"},"order":{"field":"o"}}}
  ]}
 ]}
],
"config":{
 "font":"DejaVu Sans",
 "view":{"stroke":"#222","strokeWidth":1.2},
 "range":{"category":["#d62728","#2ca02c","#ff7f0e","#1f77b4","#ea9393","#95cf95","#ffbf86","#8fbbd9"]},
 "area":{"stroke":"#111","strokeWidth":0.8,"opacity":1},
 "axis":{"labelFont":"DejaVu Sans","labelFontSize":16.5,"titleFont":"DejaVu Sans","titleFontSize":18,"titleFontWeight":"normal","tickColor":"#000","tickSize":6,"tickWidth":1.2,"domain":false,"grid":false,"labelColor":"#000","titleColor":"#000","labelPadding":3,"titlePadding":5},
 "axisX":{"labelFlush":false},
 "title":{"font":"DejaVu Sans","fontSize":18.5,"fontWeight":"normal","color":"#000","offset":1,"subtitleFont":"DejaVu Sans","subtitleColor":"#000"},
 "legend":{"labelFont":"DejaVu Sans","titleFont":"DejaVu Sans","labelColor":"#000","titleColor":"#000"}
}
}
